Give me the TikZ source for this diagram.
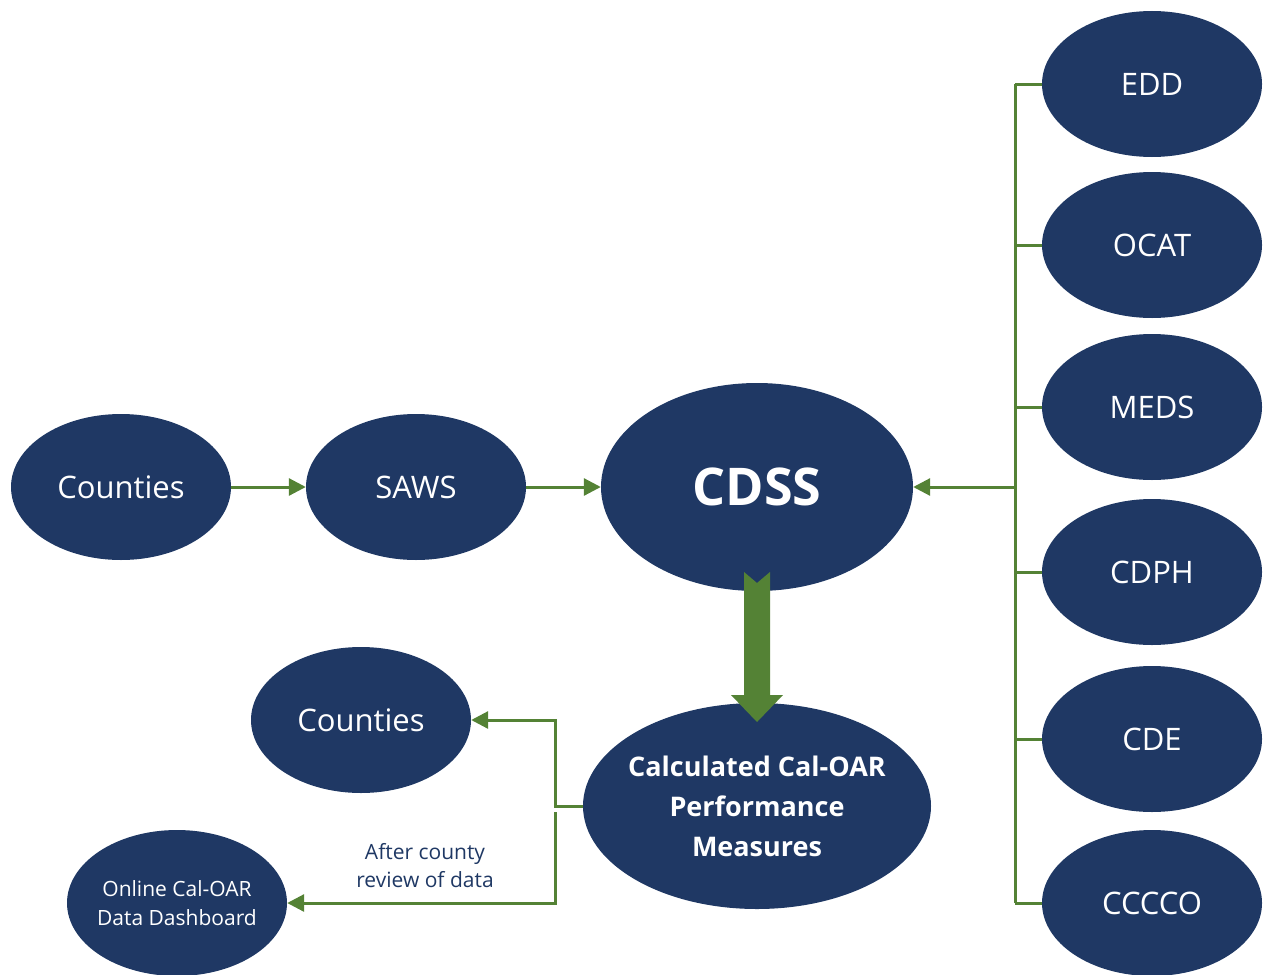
\documentclass[tikz,border=0pt]{standalone}
\usepackage{fontspec}
\setmainfont{Open Sans}
\usetikzlibrary{shapes.geometric,arrows.meta,calc}

\definecolor{navy}{RGB}{31,56,100}
\definecolor{leaf}{RGB}{84,130,53}

\tikzset{
  agency/.style={ellipse, fill=navy, text=white, inner sep=0pt,
    minimum width=220, minimum height=146, font=\fontsize{31}{37}\selectfont},
  link/.style={leaf, line width=3},
  linkarrow/.style={link, -{Triangle[length=17,width=17]}}
}

\begin{document}
\begin{tikzpicture}[x=1pt, y=-1pt]
\useasboundingbox (0,0) rectangle (1265,974);

% source chain
\node[agency] (counties) at (121,487) {Counties};
\node[agency] (saws) at (416,487) {SAWS};
\node[agency, minimum width=312, minimum height=208,
  font=\fontsize{52}{60}\selectfont\bfseries] (cdss) at (757,487) {CDSS};

% state partners
\node[agency] (edd) at (1152,84) {EDD};
\node[agency] (ocat) at (1152,245) {OCAT};
\node[agency] (meds) at (1152,407) {MEDS};
\node[agency] (cdph) at (1152,572) {CDPH};
\node[agency] (cde) at (1152,739) {CDE};
\node[agency] (cccco) at (1152,903) {CCCCO};

% outputs
\node[agency, minimum width=348, minimum height=206, inner sep=-10pt, align=center,
  font=\fontsize{27}{40}\selectfont\bfseries] (calc) at (757,806)
  {Calculated Cal-OAR\\Performance\\Measures};
\node[agency] (counties2) at (361,720) {Counties};
\node[agency, inner sep=-10pt, align=center, font=\fontsize{21}{29}\selectfont]
  (online) at (177,903) {Online Cal-OAR\\Data Dashboard};

\draw[linkarrow] (counties.east) -- (saws.west);
\draw[linkarrow] (saws.east) -- (cdss.west);

\coordinate (bus) at (1015,487);
\draw[link] (edd.west -| bus) -- (cccco.west -| bus);
\foreach \n in {edd,ocat,meds,cdph,cde,cccco}
  \draw[link] (\n.west) -- (\n.west -| bus);
\draw[linkarrow] (bus) -- (cdss.east);

% big arrow
\fill[leaf] (744,572) -- (757,583) -- (770,572) -- (770,695) -- (783,695)
  -- (757,722) -- (731,695) -- (744,695) -- cycle;

\coordinate (split) at (555,806);
\draw[linkarrow] (calc.west) -- (split) |- (counties2.east);
\draw[linkarrow] ($(split)+(0,6)$) |- (online.east);

\node[navy, align=center, font=\fontsize{21}{28}\selectfont] (note) at (425,866)
  {After county\\review of data};
\end{tikzpicture}
\end{document}
